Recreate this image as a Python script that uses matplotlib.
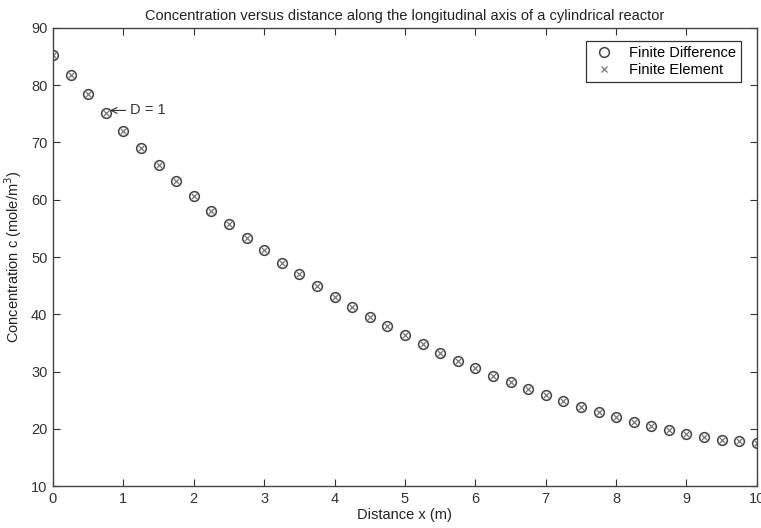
import numpy as np
import matplotlib.pyplot as plt

plt.rcParams['font.family'] = ['Liberation Sans', 'DejaVu Sans']

# distance along reactor (m) and concentration (mole/m^3)
x_dist = np.arange(0, 10.01, 0.25)
c_fd = [85.3, 81.8, 78.4, 75.2, 72.0, 69.0, 66.1, 63.3, 60.7, 58.1,
        55.7, 53.4, 51.2, 49.0, 47.0, 45.0, 43.1, 41.3, 39.6, 37.9,
        36.3, 34.8, 33.3, 31.9, 30.6, 29.3, 28.1, 27.0, 25.9, 24.8,
        23.8, 22.9, 22.0, 21.2, 20.4, 19.7, 19.1, 18.5, 18.1, 17.8, 17.6]
c_fe = list(c_fd)

fig = plt.figure(figsize=(7.61, 5.28), dpi=100)
ax = fig.add_axes([0.0696, 0.0795, 0.925, 0.8675])

ax.plot(x_dist, c_fd, linestyle='none', marker='o', markersize=7,
        markerfacecolor='none', markeredgecolor='#444444', markeredgewidth=1.1,
        label='Finite Difference')
ax.plot(x_dist, c_fe, linestyle='none', marker='x', markersize=4.5,
        color='#777777', markeredgewidth=0.9, label='Finite Element')

ax.annotate('D = 1', xy=(0.81, 75.6), xytext=(1.09, 75.6),
            fontsize=10.5, color='#333333', va='center',
            arrowprops=dict(arrowstyle='->', color='#333333', lw=0.8,
                            shrinkA=1, shrinkB=0))

ax.set_xlim(0, 10)
ax.set_ylim(10, 90)
ax.set_xticks(range(0, 11))
ax.set_yticks(range(10, 91, 10))
ax.tick_params(direction='in', top=True, right=True, length=5,
               labelsize=10.5, colors='#333333', pad=4)
for s in ax.spines.values():
    s.set_color('#444444')
    s.set_linewidth(1.0)

ax.set_xlabel('Distance x (m)', fontsize=10.5, color='#222222', labelpad=2)
ax.set_ylabel('Concentration c (mole/m$^3$)', fontsize=10.5, color='#222222', labelpad=5)
ax.set_title('Concentration versus distance along the longitudinal axis of a cylindrical reactor',
             fontsize=10.5, color='#222222', pad=6)

leg = ax.legend(loc='upper right', fontsize=10.5, fancybox=False, framealpha=1,
                edgecolor='#333333', borderaxespad=0.6, handletextpad=0.8,
                borderpad=0.35, labelspacing=0.15, handlelength=1.8,
                bbox_to_anchor=(0.99, 0.99))
leg.get_frame().set_linewidth(0.9)

fig.savefig('out.png', dpi=100)
